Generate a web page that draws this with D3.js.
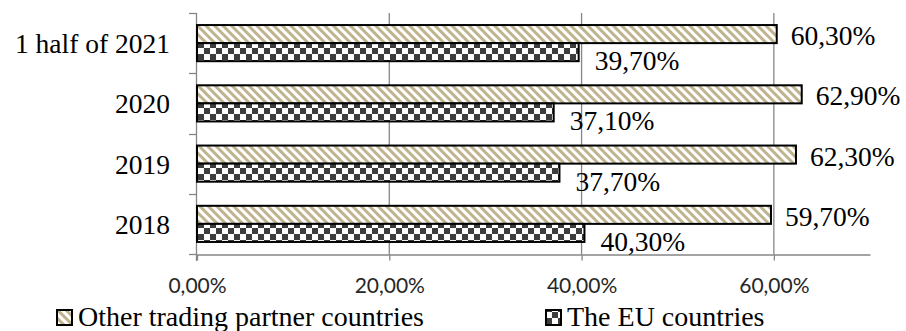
<!DOCTYPE html>
<html>
<head>
<meta charset="utf-8">
<script src="https://cdn.jsdelivr.net/npm/d3@7"></script>
<style>
  body { margin: 0; background: #fff; }
</style>
</head>
<body>
<div id="chart"></div>
<script>
// Data
const categories = ["1 half of 2021", "2020", "2019", "2018"];
const otherValues = [60.3, 62.9, 62.3, 59.7];
const euValues = [39.7, 37.1, 37.7, 40.3];
const seriesNames = ["Other trading partner countries", "The EU countries"];
const tickValues = [0, 20, 40, 60];

const width = 906;
const height = 331;
const serif = "'Liberation Serif', 'Times New Roman', serif";

const svg = d3.select("#chart")
  .append("svg")
  .attr("width", width)
  .attr("height", height);

// Fill patterns
const defs = svg.append("defs");

const hatch = defs.append("pattern")
  .attr("id", "hatch")
  .attr("patternUnits", "userSpaceOnUse")
  .attr("width", 6)
  .attr("height", 6)
  .attr("patternTransform", "rotate(-45)");
hatch.append("rect").attr("width", 6).attr("height", 6).attr("fill", "#fff");
hatch.append("rect").attr("width", 3).attr("height", 6).attr("fill", "#c0b48f");

const checker = defs.append("pattern")
  .attr("id", "checker")
  .attr("patternUnits", "userSpaceOnUse")
  .attr("width", 12)
  .attr("height", 12);
checker.append("rect").attr("width", 12).attr("height", 12).attr("fill", "#fff");
checker.append("rect").attr("width", 6).attr("height", 6).attr("fill", "#3d3d3d");
checker.append("rect").attr("x", 6).attr("y", 6).attr("width", 6).attr("height", 6).attr("fill", "#3d3d3d");

// Scales
const xScale = d3.scaleLinear()
  .domain([0, 70])
  .range([197, 870]);

const yScale = d3.scaleBand()
  .domain(categories)
  .range([13, 254])
  .paddingInner(0.4)
  .paddingOuter(0.2);

const ySub = d3.scaleBand()
  .domain(["other", "eu"])
  .range([0, yScale.bandwidth()]);

const axisColor = "#868686";

// Gridlines
svg.append("g")
  .selectAll("line")
  .data(tickValues.slice(1))
  .enter()
  .append("line")
  .attr("x1", d => xScale(d))
  .attr("x2", d => xScale(d))
  .attr("y1", 13)
  .attr("y2", 254)
  .attr("stroke", axisColor)
  .attr("stroke-width", 1.3);

// Bottom axis
const xAxis = svg.append("g")
  .attr("transform", "translate(0, 254.5)")
  .call(d3.axisBottom(xScale)
    .tickValues(tickValues)
    .tickSize(6)
    .tickSizeOuter(0)
    .tickPadding(18)
    .tickFormat(d => d.toFixed(2).replace(".", ",") + "%"));
xAxis.select(".domain").attr("stroke", axisColor).attr("stroke-width", 1.3);
xAxis.selectAll(".tick line").attr("stroke", axisColor).attr("stroke-width", 1.3);
xAxis.selectAll(".tick text")
  .style("font-family", "Lato, sans-serif")
  .style("font-size", "21px")
  .attr("fill", "#262626");

// Left axis line and ticks at category boundaries
svg.append("line")
  .attr("x1", 196.5).attr("x2", 196.5)
  .attr("y1", 13).attr("y2", 261)
  .attr("stroke", axisColor)
  .attr("stroke-width", 1.3);

const step = yScale.step();
const bounds = categories.map(c => yScale(c) - yScale.paddingOuter() * step).concat([254]);
svg.append("g")
  .selectAll("line")
  .data(bounds)
  .enter()
  .append("line")
  .attr("x1", 189)
  .attr("x2", 196.5)
  .attr("y1", d => Math.round(d) + 0.5)
  .attr("y2", d => Math.round(d) + 0.5)
  .attr("stroke", axisColor)
  .attr("stroke-width", 1.3);

// Category labels
svg.append("g")
  .selectAll("text")
  .data(categories)
  .enter()
  .append("text")
  .attr("x", 170)
  .attr("y", d => yScale(d) + yScale.bandwidth() / 2 + 10)
  .attr("text-anchor", "end")
  .style("font-family", serif)
  .style("font-size", "27.5px")
  .text(d => d);

// Bars
const series = [
  { key: "other", values: otherValues, fill: "url(#hatch)", dy: 11, dx: 14 },
  { key: "eu", values: euValues, fill: "url(#checker)", dy: 18, dx: 16 }
];

series.forEach(s => {
  svg.append("g")
    .selectAll("rect")
    .data(categories)
    .enter()
    .append("rect")
    .attr("x", xScale(0))
    .attr("y", (d, i) => yScale(d) + ySub(s.key))
    .attr("width", (d, i) => xScale(s.values[i]) - xScale(0))
    .attr("height", ySub.bandwidth())
    .attr("fill", s.fill)
    .attr("stroke", "#000")
    .attr("stroke-width", 2);

  svg.append("g")
    .selectAll("text")
    .data(categories)
    .enter()
    .append("text")
    .attr("x", (d, i) => xScale(s.values[i]) + s.dx)
    .attr("y", (d, i) => yScale(d) + ySub(s.key) + ySub.bandwidth() / 2 + s.dy)
    .style("font-family", serif)
    .style("font-size", "27.5px")
    .text((d, i) => s.values[i].toFixed(2).replace(".", ",") + "%");
});

// Legend
const legendItems = [
  { name: seriesNames[0], fill: "url(#hatch)", x: 57 },
  { name: seriesNames[1], fill: "url(#checker)", x: 546 }
];

const legend = svg.append("g")
  .selectAll("g")
  .data(legendItems)
  .enter()
  .append("g");

legend.append("rect")
  .attr("x", d => d.x)
  .attr("y", 310)
  .attr("width", 15)
  .attr("height", 15)
  .attr("fill", d => d.fill)
  .attr("stroke", "#000")
  .attr("stroke-width", 2);

legend.append("text")
  .attr("x", d => d.x + 21)
  .attr("y", 326)
  .style("font-family", serif)
  .style("font-size", "28px")
  .text(d => d.name);
</script>
</body>
</html>
